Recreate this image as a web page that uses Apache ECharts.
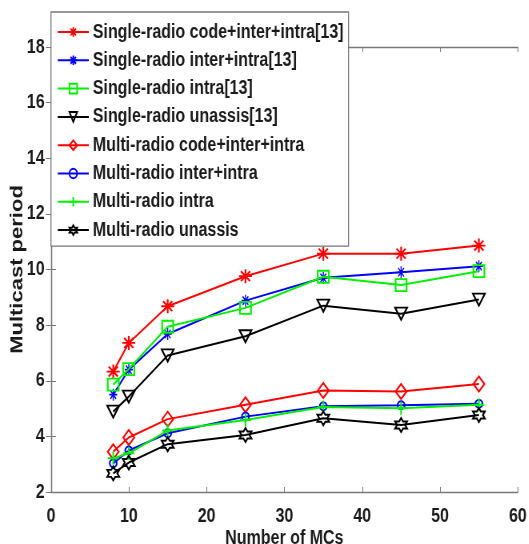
<!DOCTYPE html>
<html>
<head>
<meta charset="utf-8">
<script src="https://cdn.jsdelivr.net/npm/echarts@6/dist/echarts.min.js"></script>
<style>
html,body{margin:0;padding:0;background:#fff;overflow:hidden}
#wrap{width:529px;height:544px;overflow:hidden}
#c{width:661.25px;height:544px;transform:scaleX(0.8);transform-origin:0 0}
</style>
</head>
<body>
<div id="wrap"><div id="c"></div></div>
<script>
const xValues = [8, 10, 15, 25, 35, 45, 55];
const seriesNames = [
  'Single-radio code+inter+intra[13]',
  'Single-radio inter+intra[13]',
  'Single-radio intra[13]',
  'Single-radio unassis[13]',
  'Multi-radio code+inter+intra',
  'Multi-radio inter+intra',
  'Multi-radio intra',
  'Multi-radio unassis'
];
const singleCodeInterIntra = [6.33, 7.36, 8.68, 9.76, 10.57, 10.57, 10.86];
const singleInterIntra     = [5.50, 6.40, 7.68, 8.88, 9.70, 9.90, 10.12];
const singleIntra          = [5.86, 6.42, 7.94, 8.62, 9.74, 9.44, 9.94];
const singleUnassis        = [4.89, 5.43, 6.91, 7.60, 8.70, 8.41, 8.92];
const multiCodeInterIntra  = [3.45, 3.96, 4.62, 5.14, 5.65, 5.61, 5.88];
const multiInterIntra      = [3.03, 3.49, 4.11, 4.71, 5.08, 5.12, 5.17];
const multiIntra           = [3.21, 3.39, 4.21, 4.59, 5.06, 5.01, 5.14];
const multiUnassis         = [2.67, 3.06, 3.72, 4.05, 4.65, 4.41, 4.77];
const xTicks = [0, 10, 20, 30, 40, 50, 60];
const yTicks = [2, 4, 6, 8, 10, 12, 14, 16, 18];

const allValues = [singleCodeInterIntra, singleInterIntra, singleIntra, singleUnassis,
  multiCodeInterIntra, multiInterIntra, multiIntra, multiUnassis];

const SX = 0.8; // horizontal compression applied to the canvas via CSS
const ASTER = 'path://M0,-10L0,10M-10,0L10,0M-7.07,-7.07L7.07,7.07M-7.07,7.07L7.07,-7.07';
const PLUS = 'path://M0,-10L0,10M-10,0L10,0';
const HEX = 'path://M0,-10L2.89,-5L8.66,-5L5.77,0L8.66,5L2.89,5L0,10L-2.89,5L-8.66,5L-5.77,0L-8.66,-5L-2.89,-5Z';

const styles = [
  {c: '#ff0000', s: ASTER, w: 13, h: 14, bw: 2},
  {c: '#0000ff', s: ASTER, w: 8, h: 12, bw: 1.5},
  {c: '#00f000', s: 'rect', w: 11, h: 12, bw: 2},
  {c: '#000000', s: 'triangle', w: 12, h: 12, bw: 2, rot: 180},
  {c: '#ff0000', s: 'diamond', w: 11, h: 15, bw: 2},
  {c: '#0000ff', s: 'circle', w: 7, h: 8, bw: 2},
  {c: '#00f000', s: PLUS, w: 11, h: 13, bw: 2},
  {c: '#000000', s: HEX, w: 12, h: 14, bw: 2}
];

const font = "'Liberation Sans', Arial, Helvetica, sans-serif";

const series = allValues.map((vals, i) => ({
  name: seriesNames[i],
  type: 'line',
  data: xValues.map((x, j) => [x, vals[j]]),
  symbol: styles[i].s,
  symbolSize: [styles[i].w / SX, styles[i].h],
  symbolRotate: styles[i].rot || 0,
  showAllSymbol: true,
  color: styles[i].c,
  lineStyle: {color: styles[i].c, width: 2},
  itemStyle: {color: 'none', borderColor: styles[i].c, borderWidth: styles[i].bw},
  emphasis: {disabled: true},
  animation: false,
  z: 3 + i
}));

const chart = echarts.init(document.getElementById('c'));
const axisLine = {show: true, lineStyle: {color: '#777', width: 1.3}};
const txt = {fontFamily: font, fontSize: 20, fontWeight: 'bold', color: '#1a1a1a'};
chart.setOption({
  animation: false,
  textStyle: {fontFamily: font},
  grid: {left: 63.75, right: 13.75, top: 47, bottom: 52, containLabel: false, outerBoundsMode: 'none'},
  legend: {
    orient: 'vertical',
    left: 63.75, top: 12,
    padding: [10, 6.25, 6, 7.5],
    itemWidth: 38.75, itemHeight: 12, itemGap: 8.3,
    backgroundColor: '#fff',
    borderColor: '#777', borderWidth: 1.3,
    textStyle: txt,
    data: seriesNames,
    z: 20
  },
  xAxis: [{
    type: 'value', min: 0, max: 60, interval: 10,
    name: 'Number of MCs', nameLocation: 'middle', nameGap: 36, nameMoveOverlap: false,
    nameTextStyle: txt,
    axisLine, axisTick: {inside: true, length: 5, lineStyle: {color: '#777'}},
    axisLabel: Object.assign({margin: 14, formatter: v => xTicks.includes(v) ? String(v) : ''}, txt),
    splitLine: {show: false}
  }, {
    type: 'value', min: 0, max: 60, interval: 10, position: 'top',
    axisLine, axisTick: {inside: true, length: 5, lineStyle: {color: '#777'}},
    axisLabel: {show: false}, splitLine: {show: false}
  }],
  yAxis: [{
    type: 'value', min: 2, max: 18, interval: 2,
    name: 'Multicast period', nameLocation: 'middle', nameGap: 30.5, nameRotate: 90, nameMoveOverlap: false,
    nameTextStyle: Object.assign({}, txt, {fontSize: 22}),
    axisLine, axisTick: {inside: true, length: 6.25, lineStyle: {color: '#777'}},
    axisLabel: Object.assign({margin: 8, formatter: v => yTicks.includes(v) ? String(v) : ''}, txt),
    splitLine: {show: false}
  }, {
    type: 'value', min: 2, max: 18, interval: 2, position: 'right',
    axisLine, axisTick: {inside: true, length: 6.25, lineStyle: {color: '#777'}},
    axisLabel: {show: false}, splitLine: {show: false}
  }],
  series
});
</script>
</body>
</html>
